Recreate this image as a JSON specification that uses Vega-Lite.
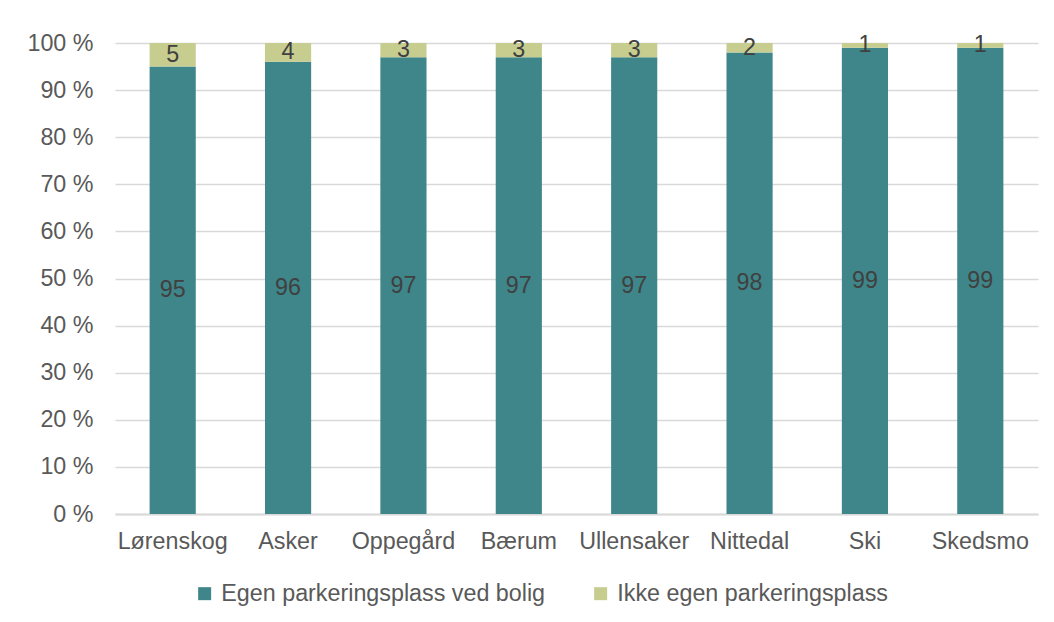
{
  "$schema": "https://vega.github.io/schema/vega-lite/v6.json",
  "autosize": "none",
  "width": 923,
  "height": 471,
  "padding": {"left": 115, "top": 43, "right": 16, "bottom": 108},
  "background": "white",
  "config": {
    "font": "Liberation Sans",
    "view": {"stroke": null}
  },
  "data": {
    "values": [
      {"kommune": "Lørenskog", "serie": "Egen parkeringsplass ved bolig", "verdi": 95},
      {"kommune": "Lørenskog", "serie": "Ikke egen parkeringsplass", "verdi": 5},
      {"kommune": "Asker", "serie": "Egen parkeringsplass ved bolig", "verdi": 96},
      {"kommune": "Asker", "serie": "Ikke egen parkeringsplass", "verdi": 4},
      {"kommune": "Oppegård", "serie": "Egen parkeringsplass ved bolig", "verdi": 97},
      {"kommune": "Oppegård", "serie": "Ikke egen parkeringsplass", "verdi": 3},
      {"kommune": "Bærum", "serie": "Egen parkeringsplass ved bolig", "verdi": 97},
      {"kommune": "Bærum", "serie": "Ikke egen parkeringsplass", "verdi": 3},
      {"kommune": "Ullensaker", "serie": "Egen parkeringsplass ved bolig", "verdi": 97},
      {"kommune": "Ullensaker", "serie": "Ikke egen parkeringsplass", "verdi": 3},
      {"kommune": "Nittedal", "serie": "Egen parkeringsplass ved bolig", "verdi": 98},
      {"kommune": "Nittedal", "serie": "Ikke egen parkeringsplass", "verdi": 2},
      {"kommune": "Ski", "serie": "Egen parkeringsplass ved bolig", "verdi": 99},
      {"kommune": "Ski", "serie": "Ikke egen parkeringsplass", "verdi": 1},
      {"kommune": "Skedsmo", "serie": "Egen parkeringsplass ved bolig", "verdi": 99},
      {"kommune": "Skedsmo", "serie": "Ikke egen parkeringsplass", "verdi": 1}
    ]
  },
  "transform": [
    {"stack": "verdi", "groupby": ["kommune"], "sort": [{"field": "serie", "order": "ascending"}], "as": ["y0", "y1"]},
    {"calculate": "(datum.y0 + datum.y1) / 2", "as": "ymid"}
  ],
  "encoding": {
    "x": {
      "field": "kommune",
      "type": "nominal",
      "sort": null,
      "scale": {"paddingInner": 0.6, "paddingOuter": 0.3},
      "axis": {
        "title": null,
        "labelAngle": 0,
        "labelFontSize": 23.3,
        "labelColor": "#595959",
        "labelPadding": 16,
        "ticks": false,
        "domainColor": "#D9D9D9",
        "domainWidth": 2,
        "grid": false
      }
    }
  },
  "layer": [
    {
      "mark": {"type": "bar"},
      "encoding": {
        "y": {
          "field": "y0",
          "type": "quantitative",
          "scale": {"domain": [0, 100], "nice": false},
          "axis": {
            "title": null,
            "values": [0, 10, 20, 30, 40, 50, 60, 70, 80, 90, 100],
            "labelExpr": "datum.value + ' %'",
            "labelFontSize": 23.3,
            "labelColor": "#595959",
            "labelPadding": 22,
            "ticks": false,
            "domain": false,
            "grid": true,
            "gridColor": "#D9D9D9",
            "gridWidth": 1.5
          }
        },
        "y2": {"field": "y1"},
        "color": {
          "field": "serie",
          "type": "nominal",
          "scale": {
            "domain": ["Egen parkeringsplass ved bolig", "Ikke egen parkeringsplass"],
            "range": ["#3F868A", "#C6CD8F"]
          },
          "legend": {
            "title": null,
            "orient": "none",
            "direction": "horizontal",
            "legendX": 78,
            "legendY": 539,
            "symbolType": "square",
            "symbolSize": 169,
            "symbolStrokeWidth": 0,
            "labelFontSize": 23.3,
            "labelColor": "#595959",
            "labelOffset": 5,
            "labelLimit": 0,
            "columnPadding": 43
          }
        }
      }
    },
    {
      "mark": {"type": "text", "fontSize": 23.3, "color": "#404040", "baseline": "middle"},
      "encoding": {
        "y": {"field": "ymid", "type": "quantitative"},
        "text": {"field": "verdi", "type": "quantitative"}
      }
    }
  ]
}
